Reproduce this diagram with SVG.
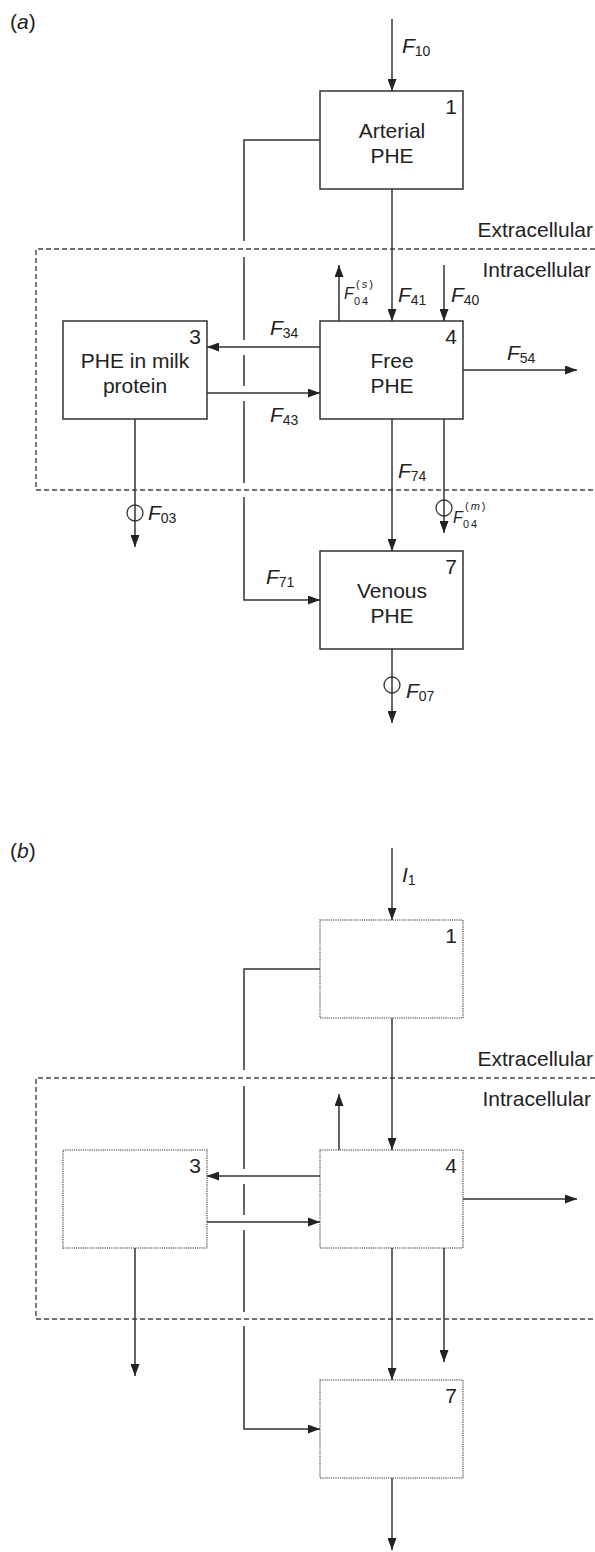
<svg xmlns="http://www.w3.org/2000/svg" width="595" height="1552" viewBox="0 0 595 1552">
<style>
text{font-family:"Liberation Sans",Arial,sans-serif;fill:#222}
.t{font-size:21px}
.c{text-anchor:middle}
.e{text-anchor:end}
.n{font-size:21px;text-anchor:end}
.it{font-style:italic}
.F{font-size:21px;font-style:italic}
.s{font-size:14px}
.fs{font-size:16px;font-style:italic}
.ss{font-size:11px;letter-spacing:2px}
.box{fill:#fff;stroke:#333;stroke-width:1.5}
.dbox{fill:#fff;stroke:#777;stroke-width:1.6;stroke-dasharray:1.2 1}
.ln{fill:none;stroke:#333;stroke-width:1.5}
.ar{fill:none;stroke:#333;stroke-width:1.5;marker-end:url(#ah)}
.bd{fill:none;stroke:#444;stroke-width:1.4;stroke-dasharray:5 3}
.ci{fill:none;stroke:#333;stroke-width:1.3}
</style>
<defs>
<marker id="ah" markerUnits="userSpaceOnUse" markerWidth="12" markerHeight="9" refX="12" refY="4.5" orient="auto">
<path d="M0,0 L12,4.5 L0,9 z" fill="#222"/>
</marker>
</defs>

<!-- Panel (a) -->
<text class="t" x="10" y="29">(<tspan class="it">a</tspan>)</text>
<g id="a-boundary">
<path class="bd" d="M595 249 H36 V490 H595"/>
<text class="t e" x="593" y="237">Extracellular</text>
<text class="t e" x="591" y="277">Intracellular</text>
</g>
<g id="a-node1">
<rect class="box" x="320" y="91" width="143" height="98"/>
<text class="n" x="457" y="114">1</text>
<text class="t c" x="392" y="138">Arterial</text>
<text class="t c" x="392" y="163">PHE</text>
</g>
<g id="a-node3">
<rect class="box" x="63" y="321" width="144" height="98"/>
<text class="n" x="201" y="344">3</text>
<text class="t c" x="135" y="368">PHE in milk</text>
<text class="t c" x="135" y="393">protein</text>
</g>
<g id="a-node4">
<rect class="box" x="320" y="321" width="143" height="98"/>
<text class="n" x="457" y="344">4</text>
<text class="t c" x="392" y="368">Free</text>
<text class="t c" x="392" y="393">PHE</text>
</g>
<g id="a-node7">
<rect class="box" x="320" y="551" width="143" height="98"/>
<text class="n" x="457" y="574">7</text>
<text class="t c" x="392" y="598">Venous</text>
<text class="t c" x="392" y="623">PHE</text>
</g>
<g id="a-connectors">
<path class="ar" d="M392 19 V91"/>
<path class="ar" d="M392 189 V321"/>
<path class="ar" d="M444 265 V321"/>
<path class="ar" d="M339 321 V265"/>
<path class="ar" d="M320 347 H207"/>
<path class="ar" d="M207 393 H320"/>
<path class="ar" d="M463 370 H577"/>
<path class="ar" d="M392 419 V551"/>
<path class="ar" d="M444 419 V533"/>
<circle class="ci" cx="444" cy="508" r="8"/>
<path class="ar" d="M135 419 V547"/>
<circle class="ci" cx="135" cy="513" r="8"/>
<path class="ar" d="M392 649 V723"/>
<circle class="ci" cx="392" cy="685" r="8"/>
<path class="ln" d="M320 140 H244 V241 M244 257 V340 M244 355 V386 M244 401 V483"/>
<path class="ar" d="M244 497 V600 H320"/>
</g>
<g id="a-labels">
<text x="402" y="53"><tspan class="F">F</tspan><tspan class="s" dy="3">10</tspan></text>
<text x="398" y="302"><tspan class="F">F</tspan><tspan class="s" dy="3">41</tspan></text>
<text x="451" y="302"><tspan class="F">F</tspan><tspan class="s" dy="3">40</tspan></text>
<text x="270" y="335"><tspan class="F">F</tspan><tspan class="s" dy="3">34</tspan></text>
<text x="270" y="422"><tspan class="F">F</tspan><tspan class="s" dy="3">43</tspan></text>
<text x="507" y="360"><tspan class="F">F</tspan><tspan class="s" dy="3">54</tspan></text>
<text x="398" y="478"><tspan class="F">F</tspan><tspan class="s" dy="3">74</tspan></text>
<text x="148" y="520"><tspan class="F">F</tspan><tspan class="s" dy="3">03</tspan></text>
<text x="266" y="584"><tspan class="F">F</tspan><tspan class="s" dy="3">71</tspan></text>
<text x="406" y="698"><tspan class="F">F</tspan><tspan class="s" dy="3">07</tspan></text>
<text class="fs" x="344" y="299">F</text>
<text class="ss" x="354" y="305">04</text>
<text class="ss" x="356" y="288">(<tspan class="it">s</tspan>)</text>
<text class="fs" x="453" y="523">F</text>
<text class="ss" x="463" y="528">04</text>
<text class="ss" x="465" y="510">(<tspan class="it">m</tspan>)</text>
</g>

<!-- Panel (b) -->
<text class="t" x="10" y="858">(<tspan class="it">b</tspan>)</text>
<g id="b-boundary">
<path class="bd" d="M595 1078 H36 V1319 H595"/>
<text class="t e" x="593" y="1066">Extracellular</text>
<text class="t e" x="591" y="1106">Intracellular</text>
</g>
<g id="b-node1">
<rect class="dbox" x="320" y="920" width="143" height="98"/>
<text class="n" x="457" y="943">1</text>
</g>
<g id="b-node3">
<rect class="dbox" x="63" y="1150" width="144" height="98"/>
<text class="n" x="201" y="1173">3</text>
</g>
<g id="b-node4">
<rect class="dbox" x="320" y="1150" width="143" height="98"/>
<text class="n" x="457" y="1173">4</text>
</g>
<g id="b-node7">
<rect class="dbox" x="320" y="1380" width="143" height="98"/>
<text class="n" x="457" y="1403">7</text>
</g>
<g id="b-connectors">
<path class="ar" d="M392 848 V920"/>
<path class="ar" d="M392 1018 V1150"/>
<path class="ar" d="M339 1150 V1094"/>
<path class="ar" d="M320 1176 H207"/>
<path class="ar" d="M207 1222 H320"/>
<path class="ar" d="M463 1199 H577"/>
<path class="ar" d="M392 1248 V1380"/>
<path class="ar" d="M444 1248 V1362"/>
<path class="ar" d="M135 1248 V1376"/>
<path class="ar" d="M392 1478 V1550"/>
<path class="ln" d="M320 969 H244 V1070 M244 1086 V1169 M244 1184 V1215 M244 1230 V1312"/>
<path class="ar" d="M244 1326 V1429 H320"/>
</g>
<g id="b-labels">
<text x="402" y="882"><tspan class="F">I</tspan><tspan class="s" dy="3">1</tspan></text>
</g>
</svg>
